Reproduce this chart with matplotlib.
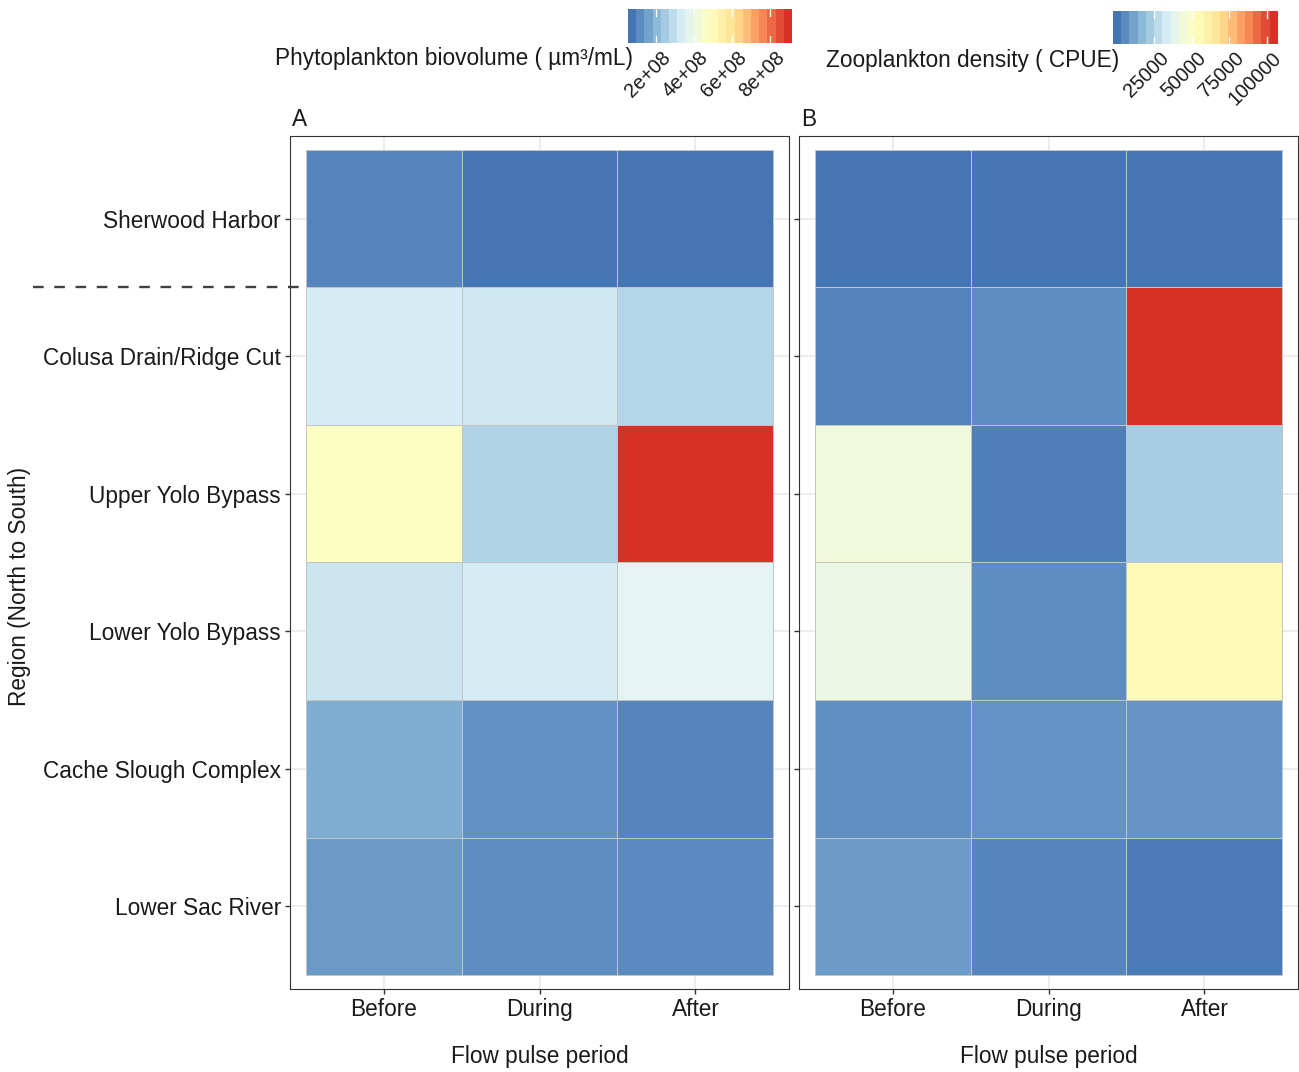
import numpy as np
import matplotlib
matplotlib.use("Agg")
import matplotlib.pyplot as plt
from matplotlib.colors import LinearSegmentedColormap, Normalize

plt.rcParams['font.family'] = ['Liberation Sans', 'DejaVu Sans']

# ---- data -------------------------------------------------------------
periods = ["Before", "During", "After"]
regions = ["Sherwood Harbor", "Colusa Drain/Ridge Cut", "Upper Yolo Bypass",
           "Lower Yolo Bypass", "Cache Slough Complex", "Lower Sac River"]

# phytoplankton biovolume (um^3/mL), rows follow `regions`, columns `periods`
phyto_before = [1.04e8, 3.30e8, 4.76e8, 3.11e8, 1.77e8, 1.42e8]
phyto_during = [0.76e8, 3.19e8, 2.66e8, 3.29e8, 1.27e8, 1.21e8]
phyto_after = [0.74e8, 2.72e8, 8.95e8, 3.60e8, 1.04e8, 1.13e8]

# zooplankton density (CPUE)
zoop_before = [300, 3900, 44000, 41500, 6700, 9400]
zoop_during = [600, 6000, 2800, 6000, 7500, 4200]
zoop_after = [700, 104500, 23000, 55000, 8000, 1600]

phyto_ticks = [2e8, 4e8, 6e8, 8e8]
phyto_ticklabels = ["2e+08", "4e+08", "6e+08", "8e+08"]
zoop_ticks = [25000, 50000, 75000, 100000]
zoop_ticklabels = ["25000", "50000", "75000", "100000"]

# ---- styling ------------------------------------------------------------
W, H = 1299, 1072
fig = plt.figure(figsize=(W / 100, H / 100), dpi=100)

cmap = LinearSegmentedColormap.from_list(
    "rdylbu_r", ["#4575B4", "#91BFDB", "#E0F3F8", "#FFFFBF",
                 "#FEE090", "#FC8D59", "#D73027"])

TXT = "#1a1a1a"
FS = 16.3


def px_axes(x0, y0, x1, y1):
    """Axes from pixel box (top-left origin)."""
    return fig.add_axes([x0 / W, 1 - y1 / H, (x1 - x0) / W, (y1 - y0) / H])


def heat_panel(ax, cols, show_ylabels):
    mat = np.array(cols).T  # rows = regions
    n = len(regions)
    # region order top (north) -> bottom (south)
    z = mat[::-1, :]
    norm = Normalize(vmin=mat.min(), vmax=mat.max())
    xe = np.arange(len(periods) + 1) + 0.5
    ye = np.arange(n + 1) + 0.5
    ax.pcolormesh(xe, ye, z, cmap=cmap, norm=norm,
                  edgecolors="#c4c4c4", linewidth=0.6, zorder=2)
    ax.set_xlim(0.4, len(periods) + 0.6)
    ax.set_ylim(0.4, n + 0.6)
    ax.set_xticks(np.arange(1, len(periods) + 1))
    ax.set_xticklabels(periods, fontsize=FS, color=TXT)
    ax.set_yticks(np.arange(1, n + 1))
    if show_ylabels:
        ax.set_yticklabels(regions[::-1], fontsize=FS, color=TXT)
    else:
        ax.set_yticklabels([])
    ax.set_axisbelow(True)
    ax.grid(True, color="#ebebeb", linewidth=1.3, zorder=0)
    ax.tick_params(length=3.5, width=1.0, color="#333333", pad=3)
    for s in ax.spines.values():
        s.set_color("#333333")
        s.set_linewidth(0.8)
    return norm


def colorbar(box, norm, ticks, labels, nbin=20):
    cax = px_axes(*box)
    lo, hi = norm.vmin, norm.vmax
    d = (hi - lo) / (nbin - 1)
    vals = np.linspace(lo, hi, nbin)
    cax.imshow(vals[None, :], cmap=cmap, norm=norm, aspect="auto",
               extent=(lo - d / 2, hi + d / 2, 0, 1), interpolation="nearest")
    cax.set_xlim(lo - d / 2, hi + d / 2)
    cax.set_ylim(0, 1)
    for t in ticks:
        cax.plot([t, t], [0, 0.2], color="white", lw=0.9)
        cax.plot([t, t], [0.8, 1], color="white", lw=0.9)
    cax.set_xticks([])
    cax.set_yticks([])
    for s in cax.spines.values():
        s.set_visible(False)
    x0, y0, x1, y1 = box
    for t, lab in zip(ticks, labels):
        xp = x0 + (t - (lo - d / 2)) / (hi + d / 2 - (lo - d / 2)) * (x1 - x0)
        fig.text((xp + 5) / W, 1 - (y1 + 5) / H, lab, fontsize=14.3, color=TXT,
                 rotation=45, rotation_mode="anchor", ha="right", va="top")


# ---- panels ---------------------------------------------------------------
axA = px_axes(290, 136, 789, 989)
normA = heat_panel(axA, [phyto_before, phyto_during, phyto_after], True)
axB = px_axes(799, 136, 1298, 989)
normB = heat_panel(axB, [zoop_before, zoop_during, zoop_after], False)

# divider between Sherwood Harbor and the floodplain regions
axA.plot([-1.25, 0.52], [len(regions) - 0.5] * 2, color="#404040",
         lw=1.7, linestyle=(0, (4.5, 4.5)), clip_on=False, zorder=5)

fig.text(292 / W, 1 - 120 / H, "A", fontsize=FS, color=TXT, ha="left", va="center")
fig.text(801 / W, 1 - 120 / H, "B", fontsize=FS, color=TXT, ha="left", va="center")

for xc in ((290 + 789) / 2, (799 + 1298) / 2):
    fig.text(xc / W, 1 - 1057 / H, "Flow pulse period", fontsize=FS,
             color=TXT, ha="center", va="center")

fig.text(20 / W, 1 - 586 / H, "Region (North to South)", fontsize=FS,
         color=TXT, rotation=90, ha="center", va="center")

# ---- colour legends ---------------------------------------------------------
colorbar((628, 9, 792, 43), normA, phyto_ticks, phyto_ticklabels)
fig.text(633 / W, 1 - 58 / H, "Phytoplankton biovolume ( µm³/mL)",
         fontsize=FS, color=TXT, ha="right", va="center")

colorbar((1113, 11, 1278, 44), normB, zoop_ticks, zoop_ticklabels)
fig.text(1119 / W, 1 - 60 / H, "Zooplankton density ( CPUE)",
         fontsize=FS, color=TXT, ha="right", va="center")

fig.savefig("out.png", dpi=100, facecolor="white")
